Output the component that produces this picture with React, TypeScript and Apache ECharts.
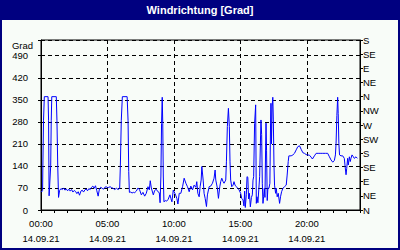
import React, { useEffect, useRef } from "react";
import * as echarts from "echarts";

const chartTitle = "Windrichtung [Grad]";
const unitLabel = "Grad";
const dateLabel = "14.09.21";
const compassLabels = ["N", "NE", "E", "SE", "S", "SW", "W", "NW", "N", "NE", "E", "SE", "S"];

const hours = [
  0, 0.06, 0.12, 0.14, 0.19, 0.25, 0.53, 0.57, 0.61, 0.73, 0.77, 0.81, 1.15, 1.2, 1.26, 1.32, 1.4,
  1.5, 1.6, 1.7, 1.8, 1.9, 2.0, 2.1, 2.2, 2.3, 2.4, 2.5, 2.6, 2.7, 2.8, 2.9, 3.0, 3.1, 3.2, 3.3, 3.4,
  3.5, 3.6, 3.7, 3.8, 3.9, 4.0, 4.1, 4.2, 4.3, 4.4, 4.5, 4.6, 4.7, 4.8, 4.9, 5.0,
  5.1, 5.2, 5.3, 5.42, 5.55, 5.67, 5.8, 5.92, 5.97, 6.04, 6.12, 6.48, 6.55, 6.6, 6.65, 6.75, 6.85, 6.95,
  7.05, 7.17, 7.3, 7.42, 7.55, 7.67, 7.8, 7.92, 8.05, 8.15, 8.22, 8.3, 8.45, 8.55, 8.67, 8.8, 8.9, 8.96,
  9.02, 9.07, 9.12, 9.16, 9.2, 9.25, 9.35, 9.45, 9.57, 9.7, 9.77, 9.85, 9.95, 10.07, 10.15, 10.22, 10.3,
  10.4, 10.52, 10.65, 10.77, 10.9, 11.02, 11.15, 11.27, 11.4, 11.52, 11.65, 11.72, 11.8, 11.9, 11.97,
  12.05, 12.1, 12.2, 12.27, 12.35, 12.45, 12.52, 12.65, 12.77, 12.9, 13.02, 13.1, 13.15, 13.27, 13.35,
  13.45, 13.52, 13.6, 13.7, 13.77, 13.9, 13.95, 14.02, 14.1, 14.17, 14.22, 14.27, 14.35, 14.45, 14.52,
  14.6, 14.7, 14.8, 14.9, 15.02, 15.1, 15.2, 15.27, 15.32,
  15.37, 15.45, 15.5, 15.56, 15.62, 15.68, 15.75, 15.83, 15.9, 15.95, 16.0, 16.07, 16.15, 16.2, 16.25,
  16.32, 16.45, 16.52, 16.55, 16.6, 16.65, 16.7, 16.75, 16.8, 16.85, 16.9, 16.93, 16.97, 17.02, 17.07,
  17.15, 17.22, 17.27, 17.3, 17.34, 17.39, 17.44, 17.48, 17.53, 17.57, 17.65, 17.7, 17.77, 17.85, 17.95,
  18.02, 18.1, 18.2, 18.32, 18.45, 18.52, 18.6, 18.65,
  18.72, 18.82, 18.95, 19.07, 19.2, 19.32, 19.45, 19.57, 19.7, 19.82, 19.95, 20.07, 20.2, 20.32, 20.42,
  20.57, 20.7, 20.85, 21.0, 21.2, 21.4, 21.57, 21.7, 21.82, 21.95, 22.07, 22.15, 22.2, 22.26, 22.32,
  22.36, 22.41, 22.46, 22.57, 22.7, 22.82, 22.88, 22.95, 23.0, 23.07, 23.12, 23.2, 23.27, 23.32, 23.4,
  23.5, 23.57, 23.7, 23.8,
];

const degrees = [
  60, 58, 62, 140, 285, 360, 360, 285, 45, 140, 285, 360, 360, 285, 140, 40, 62,
  68, 65, 70, 63, 67, 61, 66, 60, 65, 57, 62, 59, 52, 58, 47, 60, 63, 57, 64, 67,
  61, 68, 65, 72, 76, 69, 77, 61, 44, 68, 72, 69, 66, 72, 74, 71,
  72, 74, 71, 69, 65, 69, 65, 69, 140, 285, 360, 360, 285, 122, 56, 57, 54, 56,
  55, 60, 70, 64, 48, 56, 44, 53, 74, 64, 93, 70, 48, 62, 66, 58, 55, 23,
  108, 275, 358, 275, 108, 26, 30, 28, 34, 48, 37, 26, 63, 53, 45, 37, 19,
  53, 53, 74, 101, 85, 74, 58, 76, 64, 79, 72, 90, 53, 42, 74,
  95, 138, 95, 53, 37, 11, 48, 74, 76, 85, 101, 127, 95, 69, 37,
  74, 90, 101, 90, 85, 95, 153, 265, 323, 265, 153, 95, 74, 79, 90,
  79, 74, 69, 64, 53, 37, 32, 13, 60,
  8, 50, 106, 104, 35, 53, 10, 40, 48, 95, 106, 275, 334, 21, 42,
  23, 106, 238, 286, 240, 85, 21, 42, 69, 40, 200, 276, 190, 30, 69,
  69, 85, 276, 339, 210, 330, 358, 286, 138, 79, 53, 69, 42, 53, 21,
  42, 58, 69, 74, 79, 111, 154, 172,
  172, 172, 175, 180, 191, 201, 204, 193, 182, 180, 176, 175, 174, 168, 162,
  172, 180, 180, 180, 180, 180, 180, 169, 159, 152, 157, 175, 212, 300, 358,
  307, 212, 175, 172, 172, 164, 138, 112, 132, 164, 143, 169, 154, 164, 175,
  169, 164, 169, 164,
];

const FONT = "Liberation Sans";

export default function App() {
  const ref = useRef<HTMLDivElement>(null);

  useEffect(() => {
    if (!ref.current) return;
    const chart = echarts.init(ref.current, null, { renderer: "svg" });
    const data = hours.map((h, i) => [h, degrees[i]]);
    const dashed = { type: [4, 3] as any, color: "#000", width: 1 };

    chart.setOption({
      animation: false,
      backgroundColor: "#f8fcf8",
      graphic: [
        {
          type: "rect",
          z: 0,
          shape: { x: 1, y: 1, width: 398, height: 248 },
          style: { fill: "none", stroke: "#000080", lineWidth: 2 },
          silent: true,
        },
        {
          type: "rect",
          z: 1,
          shape: { x: 0, y: 0, width: 400, height: 20 },
          style: { fill: "#000080" },
          silent: true,
        },
        {
          type: "text",
          z: 2,
          x: 200,
          y: 10,
          style: {
            text: chartTitle,
            fill: "#ffffff",
            fontFamily: FONT,
            fontSize: 11,
            fontWeight: "bold",
            align: "center",
            verticalAlign: "middle",
            textAlign: "center",
            textVerticalAlign: "middle",
          },
          silent: true,
        },
        {
          type: "text",
          z: 2,
          x: 33,
          y: 45,
          style: {
            text: unitLabel,
            fill: "#000",
            fontFamily: FONT,
            fontSize: 9.5,
            align: "right",
            verticalAlign: "middle",
            textAlign: "right",
            textVerticalAlign: "middle",
          },
          silent: true,
        },
      ],
      grid: {
        left: 41,
        right: 40,
        top: 40,
        bottom: 40,
        show: true,
        borderColor: "#000",
        borderWidth: 1,
        backgroundColor: "transparent",
      },
      xAxis: {
        type: "value",
        min: 0,
        max: 24,
        interval: 5,
        axisLine: { show: true, lineStyle: { color: "#000", width: 1 } },
        axisTick: { show: true, length: 3, lineStyle: { color: "#000" } },
        minorTick: { show: true, splitNumber: 5, length: 3, lineStyle: { color: "#000" } },
        splitLine: { show: true, lineStyle: dashed },
        axisLabel: {
          color: "#000",
          fontFamily: FONT,
          fontSize: 9.5,
          lineHeight: 15,
          margin: 6,
          formatter: (v: number) =>
            v > 20 ? "" : `${String(v).padStart(2, "0")}:00\n${dateLabel}`,
        },
      },
      yAxis: [
        {
          type: "value",
          min: 0,
          max: 540,
          interval: 70,
          position: "left",
          axisLine: { show: true, lineStyle: { color: "#000", width: 1 } },
          axisTick: { show: true, length: 3, lineStyle: { color: "#000" } },
          splitLine: { show: true, lineStyle: dashed },
          axisLabel: {
            color: "#000",
            fontFamily: FONT,
            fontSize: 9.5,
            margin: 13,
            formatter: (v: number) => (v > 490 ? "" : String(v)),
          },
        },
        {
          type: "value",
          min: 0,
          max: 540,
          interval: 45,
          position: "right",
          axisLine: { show: true, lineStyle: { color: "#000", width: 1 } },
          axisTick: { show: true, length: 3, lineStyle: { color: "#000" } },
          splitLine: { show: false },
          axisLabel: {
            color: "#000",
            fontFamily: FONT,
            fontSize: 9.5,
            margin: 3,
            formatter: (v: number) => compassLabels[Math.round(v / 45)] ?? "",
          },
        },
      ],
      series: [
        {
          type: "line",
          yAxisIndex: 0,
          data,
          showSymbol: false,
          symbol: "none",
          smooth: false,
          lineStyle: { color: "#0000ff", width: 1 },
          z: 3,
        },
      ],
    });

    return () => chart.dispose();
  }, []);

  return (
    <div
      style={{
        position: "fixed",
        left: 0,
        top: 0,
        width: 400,
        height: 250,
        background: "#f8fcf8",
      }}
    >
      <div ref={ref} style={{ width: 400, height: 250 }} />
    </div>
  );
}
